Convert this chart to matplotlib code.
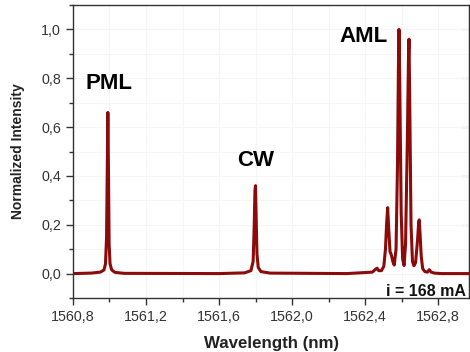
import matplotlib
matplotlib.use("Agg")
import matplotlib.pyplot as plt
from matplotlib.ticker import MultipleLocator, FuncFormatter

# Spectrum (wavelength in nm, normalized intensity)
wavelength = [
    1560.80, 1560.90, 1560.95, 1560.97, 1560.978, 1560.984, 1560.988, 1560.991,
    1560.994, 1560.998, 1561.003, 1561.012, 1561.03, 1561.08,
    1561.60, 1561.74, 1561.775, 1561.787, 1561.793, 1561.797, 1561.800,
    1561.803, 1561.808, 1561.815, 1561.83, 1561.88,
    1562.30, 1562.44, 1562.458, 1562.466, 1562.475, 1562.49, 1562.503,
    1562.512, 1562.518, 1562.524, 1562.530, 1562.537, 1562.545, 1562.552,
    1562.560, 1562.570, 1562.578, 1562.583, 1562.586, 1562.590, 1562.598,
    1562.606, 1562.614, 1562.622, 1562.632, 1562.638, 1562.641, 1562.645,
    1562.652, 1562.660, 1562.668, 1562.677, 1562.688, 1562.694, 1562.697,
    1562.701, 1562.708, 1562.716, 1562.728, 1562.742, 1562.752, 1562.762,
    1562.78, 1562.82, 1562.97,
]
intensity = [
    0.000, 0.002, 0.006, 0.015, 0.04, 0.15, 0.45, 0.66,
    0.45, 0.12, 0.04, 0.015, 0.005, 0.001,
    0.000, 0.003, 0.012, 0.05, 0.20, 0.34, 0.36,
    0.25, 0.08, 0.025, 0.008, 0.002,
    0.000, 0.006, 0.018, 0.022, 0.012, 0.012, 0.030,
    0.10, 0.20, 0.27, 0.18, 0.09, 0.075, 0.05,
    0.035, 0.10, 0.45, 0.85, 1.00, 0.80, 0.25,
    0.06, 0.033, 0.12, 0.55, 0.88, 0.96, 0.70,
    0.20, 0.05, 0.032, 0.045, 0.14, 0.21, 0.22,
    0.17, 0.07, 0.02, 0.008, 0.006, 0.016, 0.006,
    0.002, 0.000, 0.000,
]

labels = ["PML", "CW", "AML"]
label_x = [1560.998, 1561.80, 1562.39]
label_y = [0.78, 0.465, 0.97]
current_text = "i = 168 mA"

x_ticks = [1560.8, 1561.2, 1561.6, 1562.0, 1562.4, 1562.8]
y_ticks = [0.0, 0.2, 0.4, 0.6, 0.8, 1.0]

plt.rcParams['font.family'] = ['Liberation Sans', 'DejaVu Sans']

fig = plt.figure(figsize=(4.70, 3.52), dpi=100)
ax = fig.add_axes([0.1553, 0.1534, 0.998 - 0.1553, 0.9858 - 0.1534])

ax.plot(wavelength, intensity, color='#8B0A0A', lw=2.2, solid_joinstyle='round')

ax.set_xlim(1560.8, 1562.97)
ax.set_ylim(-0.1, 1.1)

ax.set_xticks(x_ticks)
ax.set_yticks(y_ticks)
ax.xaxis.set_minor_locator(MultipleLocator(0.2))
ax.yaxis.set_minor_locator(MultipleLocator(0.1))
fmt = FuncFormatter(lambda v, p: f"{v:.1f}".replace('.', ','))
ax.xaxis.set_major_formatter(fmt)
ax.yaxis.set_major_formatter(fmt)

ax.grid(True, which='both', color='#f5f5f5', lw=0.8, zorder=0)
ax.set_axisbelow(True)

ax.tick_params(axis='both', which='major', direction='out', length=5, width=1,
               labelsize=10.3, labelcolor='#333333', color='#333333')
ax.tick_params(axis='both', which='minor', direction='out', length=3, width=1,
               color='#333333')
ax.tick_params(axis='y', which='both', right=False)

for s in ax.spines.values():
    s.set_color('#333333')
    s.set_linewidth(1.0)

# inward ticks on the right spine
ax2 = ax.secondary_yaxis('right')
ax2.set_yticks(y_ticks)
ax2.yaxis.set_minor_locator(MultipleLocator(0.1))
ax2.tick_params(axis='y', which='major', direction='in', length=5, labelright=False, color='#333333')
ax2.tick_params(axis='y', which='minor', direction='in', length=3, color='#333333')
ax2.spines['right'].set_color('#333333')

for t, xx, yy in zip(labels, label_x, label_y):
    ax.text(xx, yy, t, fontsize=16, fontweight='bold', ha='center', va='center', color='black')

ax.text(1562.955, -0.072, current_text, fontsize=11.5, fontweight='bold',
        ha='right', va='center', color='#111111')

ax.set_xlabel("Wavelength (nm)", fontsize=12.2, fontweight='bold', color='#222222', labelpad=9)
ax.set_ylabel("Normalized Intensity", fontsize=10, fontweight='bold', color='#222222', labelpad=12)

fig.savefig("out.png", dpi=100)
